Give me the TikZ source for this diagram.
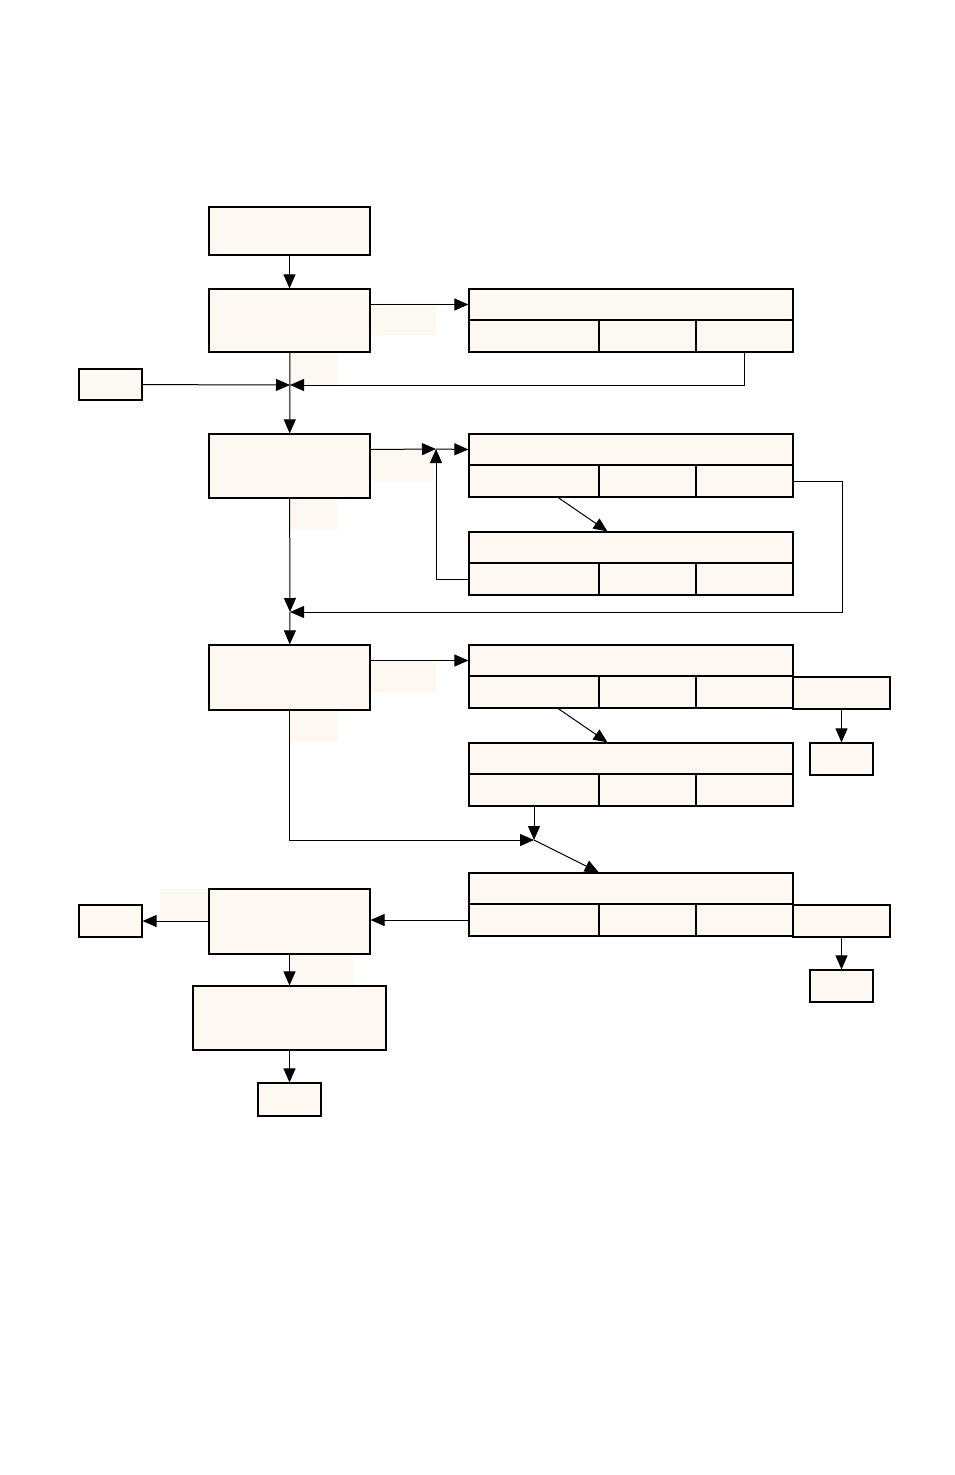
\documentclass[tikz,border=0pt]{standalone}
\usetikzlibrary{arrows.meta}
\definecolor{cream}{HTML}{FDF9F2}
\tikzset{
  box/.style={draw,fill=cream,line width=1.2pt,inner sep=0pt},
  patch/.style={fill=cream,draw=none},
  conn/.style={line width=1pt,-{Triangle[length=14pt,width=12pt]}},
  wire/.style={line width=1pt},
}
% a box from corner (x1,y1) to corner (x2,y2), in pixels
\newcommand\cell[5]{\node[box,minimum width={((#4)-(#2))*1pt},minimum height={((#5)-(#3))*1pt}]
  (#1) at ({((#2)+(#4))/2},{((#3)+(#5))/2}) {};}
\begin{document}
\begin{tikzpicture}[x=1pt,y=-1pt]
    \useasboundingbox (0,0) rectangle (954,1475);
    % patches
    \foreach \a/\b/\c/\d in {370/303/436/335, 290/352/338/385, 370/449/433/482, 290/498/338/530,
        370/660/436/693, 290/710/338/742, 160/889/209/921, 290/954/354/986}
        \fill[patch] (\a,\b) rectangle (\c,\d);
    % main column
    \cell{start}{209}{207}{370}{255}
    \cell{stepa}{209}{289}{370}{352}
    \cell{stepb}{209}{434}{370}{498}
    \cell{stepc}{209}{645}{370}{710}
    \cell{stepd}{209}{889}{370}{954}
    \cell{stepe}{193}{986}{386}{1050}
    \cell{fin}{258}{1083}{321}{1116}
    \cell{ina}{79}{369}{142}{400}
    \cell{outa}{79}{905}{142}{937}
    % tables
    \foreach \t/\ty in {ta/289,tb/434,tc/532,td/645,te/743,tf/873}{
        \cell{\t h}{469}{\ty}{793}{\ty+31}
        \cell{\t 1}{469}{\ty+31}{599}{\ty+63}
        \cell{\t 2}{599}{\ty+31}{696}{\ty+63}
        \cell{\t 3}{696}{\ty+31}{793}{\ty+63}
    }
    \cell{td4}{793}{677}{890}{709}
    \cell{tf4}{793}{905}{890}{937}
    \cell{outd}{810}{743}{873}{775}
    \cell{outf}{810}{970}{873}{1002}
    % junctions
    \coordinate (ja) at (290,385);
    \coordinate (jb) at (436,449);
    \coordinate (jc) at (290,612);
    \coordinate (jd) at (534,840);
    % connectors
    \draw[conn] (start) -- (stepa);
    \draw[conn] (stepa.east |- tah) -- (tah.west);
    \draw[wire] (stepa) -- (ja);
    \draw[conn] (ina) -- (ja);
    \draw[conn] (ta3.south) |- (ja);
    \draw[conn] (ja) -- (stepb);
    \draw[conn] (stepb.east |- tbh) -- (jb);
    \draw[conn] (jb) -- (tbh.west);
    \draw[conn] (tb1) -- (tch);
    \draw[conn] (tc1.west) -| (jb);
    \draw[conn] (tb3.east) -- ++(49,0) |- (jc);
    \draw[conn] (stepb) -- (jc);
    \draw[conn] (jc) -- (stepc);
    \draw[conn] (stepc.east |- tdh) -- (tdh.west);
    \draw[conn] (td1) -- (teh);
    \draw[conn] (td4) -- (outd);
    \draw[conn] (stepc.south) |- (jd);
    \draw[conn] (te1) -- (jd);
    \draw[conn] (jd) -- (tfh);
    \draw[conn] (tf4) -- (outf);
    \draw[conn] (tf1.west) -- (stepd.east |- tf1);
    \draw[conn] (stepd.west |- outa) -- (outa);
    \draw[conn] (stepd) -- (stepe);
    \draw[conn] (stepe) -- (fin);
\end{tikzpicture}
\end{document}
